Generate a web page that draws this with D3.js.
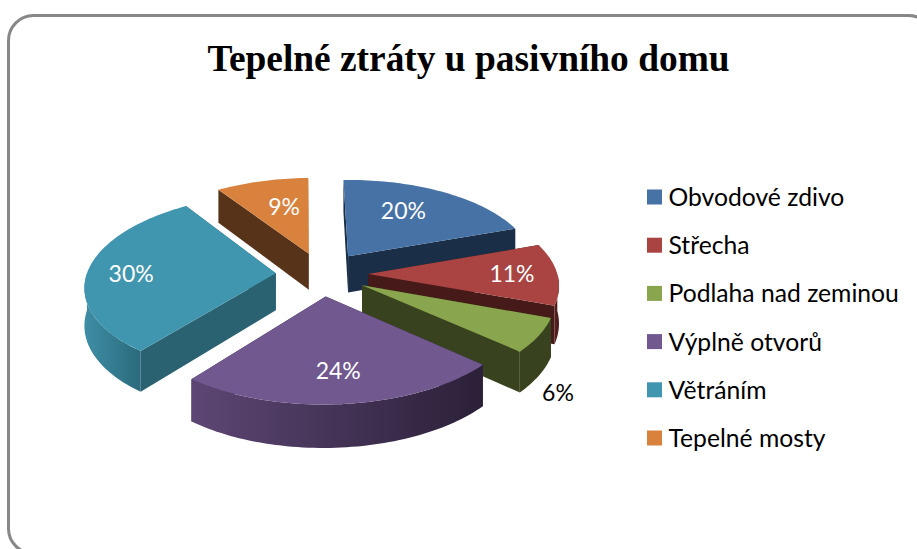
<!DOCTYPE html>
<html>
<head>
<meta charset="utf-8">
<script src="https://cdn.jsdelivr.net/npm/d3@7"></script>
<style>
  html, body { margin: 0; background: #fff; overflow: hidden; }
  svg { display: block; }
</style>
</head>
<body>
<div class="svg-container"></div>
<script>
const chartTitle = 'Tepelné ztráty u pasivního domu';
const categories = ['Obvodové zdivo', 'Střecha', 'Podlaha nad zeminou', 'Výplně otvorů', 'Větráním', 'Tepelné mosty'];
const values = [20, 11, 6, 24, 30, 9];

// face colours per slice
const topColours = ['#4672a6', '#a94442', '#89a54e', '#71588f', '#4096ae', '#d9823d'];
const wallColours = ['#1a2e47', '#461a18', '#38421e', '#2f233c', '#2a6272', '#57331a'];
const arcColours = [['#1a2e47', '#1a2e47'], ['#5a2120', '#461a18'], ['#38421e', '#38421e'],
  ['#5d4674', '#2b2038'], ['#3e8ea6', '#2b6a7c'], ['#57331a', '#57331a']];

const width = 917;
const height = 549;

// pie "camera" settings
const cx = 322;
const cy = 274;
const radiusX = 189;
const radiusY = 89.4;
const perspective = 0.119;
const explode = 0.245;
const depth = 37;
const rotation = -0.03;
const shear = 3;

const svg = d3.select('.svg-container')
  .append('svg')
  .attr('width', width)
  .attr('height', height);

// outer frame, runs off the right and bottom edge
svg.append('rect')
  .attr('x', 8.5)
  .attr('y', 15.5)
  .attr('width', 925)
  .attr('height', 538)
  .attr('rx', 25)
  .attr('fill', '#fff')
  .attr('stroke', '#878787')
  .attr('stroke-width', 3);

svg.append('text')
  .attr('x', 468.5)
  .attr('y', 71)
  .attr('text-anchor', 'middle')
  .style('font', 'bold 37.4px "Liberation Serif"')
  .text(chartTitle);

const pie = d3.pie().sort(null).startAngle(rotation).endAngle(Math.PI * 2 + rotation);
const slices = pie(values).map((d, i) => {
  const mid = (d.startAngle + d.endAngle) / 2;
  return { i, start: d.startAngle, end: d.endAngle, mid, ox: Math.sin(mid) * explode, oy: Math.cos(mid) * explode };
});

// disc coordinates -> screen
function project(x, y, drop) {
  const s = 1 / (1 + perspective * y);
  return [cx + radiusX * x * s + shear * y, cy - radiusY * y * s + depth * drop * s];
}

function rimPoint(d, angle, drop) {
  return project(d.ox + Math.sin(angle), d.oy + Math.cos(angle), drop);
}

function apexPoint(d, drop) {
  return project(d.ox, d.oy, drop);
}

function arcPoints(d, a0, a1, drop) {
  const n = Math.max(2, Math.ceil((a1 - a0) * 40));
  return d3.range(n + 1).map(k => rimPoint(d, a0 + (a1 - a0) * k / n, drop));
}

const line = d3.line();
const closed = pts => line(pts) + 'Z';

const defs = svg.append('defs');
arcColours.forEach((c, i) => {
  const g = defs.append('linearGradient').attr('id', 'arc' + i);
  g.append('stop').attr('offset', 0).attr('stop-color', c[0]);
  g.append('stop').attr('offset', 1).attr('stop-color', c[1]);
});

// back slices first
const drawOrder = slices.slice().sort((a, b) => d3.descending(a.oy, b.oy));
const pieG = svg.append('g');

drawOrder.forEach(d => {
  const g = pieG.append('g');

  // flat cut walls
  [d.start, d.end].forEach(a => {
    g.append('path')
      .attr('d', closed([apexPoint(d, 0), rimPoint(d, a, 0), rimPoint(d, a, 1), apexPoint(d, 1)]))
      .attr('fill', wallColours[d.i]);
  });

  // round wall, only the part that faces the viewer
  const a0 = Math.max(d.start, Math.PI / 2);
  const a1 = Math.min(d.end, Math.PI * 1.5);
  if (a1 > a0) {
    const pts = arcPoints(d, a0, a1, 0).concat(arcPoints(d, a0, a1, 1).reverse());
    g.append('path')
      .attr('d', closed(pts))
      .attr('fill', `url(#arc${d.i})`);
  }

  // top face
  g.append('path')
    .attr('d', closed([apexPoint(d, 0)].concat(arcPoints(d, d.start, d.end, 0))))
    .attr('fill', topColours[d.i]);
});

// percent labels: distance along the slice's middle as a share of the radius,
// and how far they sit below (or above) the top face in wall heights
const labelReach = [0.56, 0.76, 1.1, 0.72, 0.77, 0.5];
const labelDrop = [-0.25, 0, 1.3, 0, 0.06, -0.25];

slices.forEach(d => {
  const p = project(d.ox + Math.sin(d.mid) * labelReach[d.i], d.oy + Math.cos(d.mid) * labelReach[d.i], labelDrop[d.i]);
  svg.append('text')
    .attr('x', p[0])
    .attr('y', p[1])
    .attr('dy', '0.36em')
    .attr('text-anchor', 'middle')
    .attr('fill', values[d.i] === 6 ? '#000' : '#fff')
    .style('font', '23px Lato')
    .text(values[d.i] + '%');
});

// legend
const legendY = d3.scalePoint().domain(categories).range([197, 438]);
const legend = svg.append('g')
  .selectAll('g')
  .data(categories)
  .enter()
  .append('g')
  .attr('transform', d => `translate(647,${legendY(d)})`);

legend.append('rect')
  .attr('y', -7.5)
  .attr('width', 15)
  .attr('height', 15)
  .attr('fill', (d, i) => topColours[i]);

legend.append('text')
  .attr('x', 21.5)
  .attr('dy', '0.36em')
  .attr('fill', '#000')
  .style('font', '24.7px Lato')
  .text(d => d);
</script>
</body>
</html>
